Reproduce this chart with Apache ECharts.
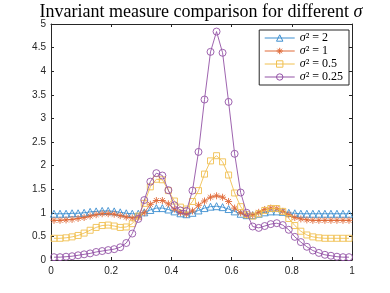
<!DOCTYPE html>
<html>
<head>
<meta charset="utf-8">
<script src="https://cdn.jsdelivr.net/npm/echarts@6/dist/echarts.min.js"></script>
<style>html,body{margin:0;padding:0;background:#fff;}#c{width:390px;height:293px;}</style>
</head>
<body>
<div id="c"></div>
<script>
const xs = [0.01,0.03,0.05,0.07,0.09,0.11,0.13,0.15,0.17,0.19,0.21,0.23,0.25,0.27,0.29,0.31,0.33,0.35,0.37,0.39,0.41,0.43,0.45,0.47,0.49,0.51,0.53,0.55,0.57,0.59,0.61,0.63,0.65,0.67,0.69,0.71,0.73,0.75,0.77,0.79,0.81,0.83,0.85,0.87,0.89,0.91,0.93,0.95,0.97,0.99];
const s2 = [0.98,0.98,0.98,0.99,0.99,1.00,1.02,1.03,1.04,1.04,1.03,1.01,0.99,0.98,0.98,1.01,1.06,1.10,1.10,1.07,1.03,0.99,0.97,1.00,1.05,1.10,1.13,1.14,1.12,1.08,1.03,0.98,0.95,0.95,0.98,1.01,1.03,1.03,1.02,1.00,0.99,0.98,0.98,0.98,0.98,0.98,0.98,0.98,0.98,0.98];
const s1 = [0.84,0.84,0.85,0.86,0.88,0.90,0.93,0.96,0.98,0.98,0.97,0.94,0.91,0.89,0.91,1.00,1.18,1.26,1.26,1.19,1.08,1.00,0.97,1.04,1.16,1.25,1.33,1.36,1.33,1.24,1.10,1.00,0.95,0.95,1.01,1.07,1.10,1.09,1.03,0.96,0.90,0.87,0.85,0.84,0.84,0.84,0.84,0.84,0.84,0.84];
const s05 = [0.46,0.46,0.47,0.49,0.52,0.57,0.63,0.69,0.73,0.74,0.72,0.69,0.70,0.77,0.93,1.20,1.55,1.71,1.70,1.47,1.25,1.12,1.08,1.24,1.47,1.82,2.10,2.21,2.08,1.80,1.42,1.13,0.96,0.93,0.98,1.05,1.09,1.09,1.03,0.88,0.73,0.61,0.53,0.49,0.47,0.46,0.46,0.46,0.46,0.46];
const s025 = [0.06,0.06,0.07,0.08,0.10,0.12,0.14,0.17,0.19,0.21,0.23,0.27,0.36,0.56,0.87,1.27,1.66,1.84,1.79,1.48,1.16,1.05,1.04,1.47,2.29,3.40,4.41,4.84,4.39,3.35,2.25,1.43,1.00,0.71,0.68,0.72,0.76,0.78,0.74,0.64,0.49,0.38,0.28,0.20,0.15,0.11,0.09,0.07,0.06,0.06];
const names = ['σ² = 2','σ² = 1','σ² = 0.5','σ² = 0.25'];
const colors = ['#3d8fd0','#e06a38','#f0c050','#9352a6'];
const xTicks = ['0','0.2','0.4','0.6','0.8','1'];
const yTicks = ['0','0.5','1','1.5','2','2.5','3','3.5','4','4.5','5'];

const asterisk = 'path://M5,0L5,10M0,5L10,5M1.5,1.5L8.5,8.5M8.5,1.5L1.5,8.5';
const symbols = ['triangle', asterisk, 'rect', 'circle'];
const sizes = [7, 7, 6, 7];
const allData = [s2, s1, s05, s025];

const chart = echarts.init(document.getElementById('c'), null, {renderer: 'canvas'});
const axisCol = '#262626';
const baseX = {
  type: 'value', min: 0, max: 1, interval: 0.2,
  axisLine: {show: true, onZero: false, lineStyle: {color: axisCol, width: 1}},
  axisTick: {show: true, inside: true, length: 3, lineStyle: {color: axisCol}},
  splitLine: {show: false}
};
const baseY = {
  type: 'value', min: 0, max: 5, interval: 0.5,
  axisLine: {show: true, onZero: false, lineStyle: {color: axisCol, width: 1}},
  axisTick: {show: true, inside: true, length: 3, lineStyle: {color: axisCol}},
  splitLine: {show: false}
};
chart.setOption({
  animation: false,
  backgroundColor: '#fff',
  title: {
    text: '{a|Invariant measure comparison for different }{i|σ}',
    left: 196, top: -2, textAlign: 'center',
    textStyle: {
      fontWeight: 'normal',
      rich: {
        a: {fontFamily: 'Liberation Serif', fontWeight: 'normal', fontSize: 18, color: '#000'},
        i: {fontFamily: 'Liberation Serif', fontWeight: 'normal', fontStyle: 'italic', fontSize: 18, color: '#000'}
      }
    }
  },
  grid: {left: 51, right: 38, top: 24, bottom: 33, containLabel: false},
  legend: {
    orient: 'vertical', right: 41, top: 30,
    itemWidth: 30, itemHeight: 8, itemGap: 1,
    padding: [2, 6, 2, 5],
    borderColor: axisCol, borderWidth: 1, backgroundColor: '#fff',
    data: names,
    itemStyle: {color: 'rgba(255,255,255,0)', borderWidth: 1},
    lineStyle: {width: 1},
    formatter: function (n) { return '{i|σ}{n|' + n.slice(1) + '}'; },
    textStyle: {
      rich: {
        i: {fontFamily: 'Liberation Serif', fontStyle: 'italic', fontSize: 12, color: '#000'},
        n: {fontFamily: 'Liberation Serif', fontSize: 12, color: '#000'}
      }
    }
  },
  xAxis: [
    Object.assign({}, baseX, {position: 'bottom',
      axisLabel: {show: true, margin: 6, color: axisCol, fontFamily: 'Liberation Sans', fontSize: 10,
        formatter: function (v) { return xTicks[Math.round(v / 0.2)]; }}}),
    Object.assign({}, baseX, {position: 'top', axisLabel: {show: false}})
  ],
  yAxis: [
    Object.assign({}, baseY, {position: 'left',
      axisLabel: {show: true, margin: 5, color: axisCol, fontFamily: 'Liberation Sans', fontSize: 10,
        formatter: function (v) { return yTicks[Math.round(v / 0.5)]; }}}),
    Object.assign({}, baseY, {position: 'right', axisLabel: {show: false}})
  ],
  series: allData.map(function (arr, k) {
    return {
      name: names[k], type: 'line',
      xAxisIndex: 0, yAxisIndex: 0,
      data: xs.map(function (x, i) { return [x, arr[i]]; }),
      symbol: symbols[k], symbolSize: sizes[k], showSymbol: true,
      lineStyle: {color: colors[k], width: 0.9},
      itemStyle: {color: 'rgba(255,255,255,0)', borderColor: colors[k], borderWidth: 0.9},
      emphasis: {disabled: true},
      z: 2 + k
    };
  })
});
</script>
</body>
</html>
